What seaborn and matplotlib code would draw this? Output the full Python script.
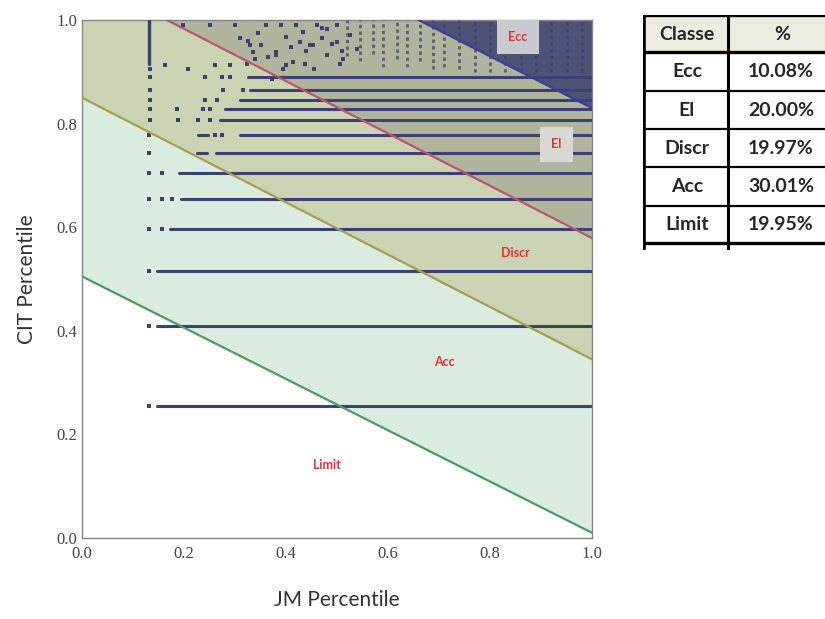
import matplotlib
matplotlib.use("Agg")
import matplotlib.pyplot as plt
import numpy as np
import pandas as pd
import seaborn as sns

# Class boundaries: CIT percentile at JM = 0 and at JM = 1
BOUNDARY_NAMES = ["Limit/Acc", "Acc/Discr", "Discr/El", "El/Ecc"]
BOUNDARY_AT_0 = [0.505, 0.85, 1.084, 1.33]
BOUNDARY_AT_1 = [0.01, 0.345, 0.579, 0.83]

# Class labels inside the plot
CLASS_NAMES = ["Limit", "Acc", "Discr", "El", "Ecc"]
CLASS_LABEL_JM = [0.48, 0.71, 0.85, 0.93, 0.855]
CLASS_LABEL_CIT = [0.14, 0.34, 0.55, 0.76, 0.967]

# Table of class shares
TABLE_SHARES = ["19.95%", "30.01%", "19.97%", "20.00%", "10.08%"]

# Dense horizontal runs of papers (one run per citation level)
RUN_CIT = [0.255, 0.41, 0.515, 0.597, 0.654, 0.705, 0.743, 0.743, 0.778, 0.778,
           0.807, 0.828, 0.846, 0.865, 0.89]
RUN_JM_START = [0.148, 0.148, 0.148, 0.172, 0.195, 0.19, 0.225, 0.263, 0.227, 0.31,
                0.27, 0.28, 0.31, 0.33, 0.325]
RUN_JM_END = [1.0, 1.0, 1.0, 1.0, 1.0, 1.0, 0.245, 1.0, 0.247, 1.0,
              1.0, 1.0, 1.0, 1.0, 1.0]

# Lowest JM percentile: solid column at the top
MIN_JM = 0.131
MIN_COL_CIT = [0.915, 1.0]

# Dotted columns of highly cited papers
COL_JM = [0.52, 0.545, 0.57, 0.59, 0.617, 0.637, 0.663, 0.688, 0.71,
          0.74, 0.77, 0.80, 0.83, 0.86, 0.89, 0.92, 0.95, 0.98]
COL_CIT_LOW = [0.93, 0.92, 0.935, 0.91, 0.925, 0.91, 0.92, 0.905, 0.91,
               0.905, 0.9, 0.9, 0.9, 0.9, 0.9, 0.9, 0.9, 0.9]

# Isolated papers
POINT_JM = [0.131, 0.131, 0.131, 0.131, 0.157, 0.131, 0.157, 0.176, 0.131, 0.157,
            0.131, 0.131, 0.26, 0.275, 0.133, 0.188, 0.227, 0.25, 0.133, 0.186,
            0.237, 0.25, 0.133, 0.241, 0.265, 0.133, 0.276, 0.316, 0.133, 0.241,
            0.275, 0.29, 0.133, 0.163, 0.208, 0.26, 0.29, 0.33, 0.34, 0.38,
            0.40, 0.41, 0.447, 0.47, 0.48, 0.49, 0.40, 0.437, 0.373, 0.324,
            0.25, 0.198, 0.30, 0.325, 0.335, 0.365, 0.38, 0.414, 0.427, 0.453,
            0.48, 0.50, 0.512, 0.525, 0.539, 0.48, 0.433, 0.35, 0.36, 0.39,
            0.42, 0.46, 0.50, 0.44, 0.47, 0.51, 0.505, 0.455, 0.395, 0.345, 0.31]
POINT_CIT = [0.255, 0.41, 0.515, 0.597, 0.597, 0.654, 0.654, 0.654, 0.705, 0.705,
             0.743, 0.778, 0.778, 0.778, 0.807, 0.807, 0.807, 0.807, 0.828, 0.828,
             0.828, 0.828, 0.846, 0.846, 0.846, 0.865, 0.865, 0.865, 0.89, 0.89,
             0.89, 0.89, 0.905, 0.913, 0.906, 0.913, 0.913, 0.952, 0.925, 0.933,
             0.967, 0.948, 0.952, 0.985, 0.933, 0.954, 0.913, 0.915, 0.887, 0.915,
             0.99, 0.99, 0.99, 0.96, 0.938, 0.929, 0.938, 0.919, 0.958, 0.952,
             0.933, 0.958, 0.925, 0.971, 0.944, 0.983, 0.977, 0.952, 0.99, 0.99,
             0.99, 0.99, 0.99, 0.94, 0.965, 0.94, 0.915, 0.905, 0.905, 0.975, 0.965]

LINE_COLORS = ["#4f9a62", "#a39f52", "#b8566e", "#3d3f99"]
REGION_COLORS = ["#d9ecdf", "#cad3b2", "#b1b49c", "#4d5276"]
DOT_COLOR = "#3b4170"

sns.set_style("white")
plt.rcParams["font.family"] = ["Lato", "DejaVu Sans"]

fig = plt.figure(figsize=(8.25, 6.19), dpi=100)
ax = fig.add_axes([82 / 825, 1 - 538 / 619, 510 / 825, 518 / 619])
ax.set_xlim(0, 1)
ax.set_ylim(0, 1)

# Shaded classes, stacked between the boundary lines
jm = np.array([0.0, 1.0])
bounds = [np.array([a, b]) for a, b in zip(BOUNDARY_AT_0, BOUNDARY_AT_1)]
for i, color in enumerate(REGION_COLORS):
    upper = bounds[i + 1] if i + 1 < len(bounds) else np.maximum(bounds[i], 1.0)
    ax.fill_between(jm, bounds[i], upper, color=color, lw=0, zorder=1)

# Papers
runs = pd.DataFrame({
    "run": np.repeat(np.arange(len(RUN_CIT)), 2),
    "JM": np.ravel(np.column_stack([RUN_JM_START, RUN_JM_END])),
    "CIT": np.repeat(RUN_CIT, 2),
})
sns.lineplot(data=runs, x="JM", y="CIT", units="run", estimator=None, sort=False,
             color=DOT_COLOR, lw=2.2, ax=ax, zorder=3)
cols = pd.DataFrame({
    "col": np.repeat(np.arange(len(COL_JM)), 2),
    "JM": np.repeat(COL_JM, 2),
    "CIT": np.ravel(np.column_stack([COL_CIT_LOW, np.ones(len(COL_JM))])),
})
sns.lineplot(data=cols, x="JM", y="CIT", units="col", estimator=None, sort=False,
             color=DOT_COLOR, lw=2.0, ls=(0, (1.2, 1.2)), alpha=0.75, ax=ax, zorder=3)
sns.lineplot(x=[MIN_JM] * len(MIN_COL_CIT), y=MIN_COL_CIT, sort=False,
             estimator=None, color=DOT_COLOR, lw=2.4, ax=ax, zorder=3)
sns.scatterplot(x=POINT_JM, y=POINT_CIT, color=DOT_COLOR, marker="s", s=5,
                linewidth=0, ax=ax, zorder=3)

# Boundary lines
lines = pd.DataFrame({
    "boundary": np.repeat(BOUNDARY_NAMES, 2),
    "JM": np.tile(jm, len(BOUNDARY_NAMES)),
    "CIT": np.ravel(np.column_stack([BOUNDARY_AT_0, BOUNDARY_AT_1])),
})
sns.lineplot(data=lines, x="JM", y="CIT", hue="boundary", palette=LINE_COLORS,
             hue_order=BOUNDARY_NAMES, lw=1.6, legend=False, ax=ax, zorder=4)

for name, x, y in zip(CLASS_NAMES, CLASS_LABEL_JM, CLASS_LABEL_CIT):
    box = None
    if name == "Ecc":
        box = dict(boxstyle="square,pad=0.9", fc="#c9cacf", ec="none")
    elif name == "El":
        box = dict(boxstyle="square,pad=0.9", fc="#d8d9d2", ec="none")
    ax.text(x, y, name, color="#e8303a", fontsize=9, fontweight="bold",
            ha="center", va="center", bbox=box, zorder=5)

ax.set_xticks(np.arange(0, 1.01, 0.2))
ax.set_yticks(np.arange(0, 1.01, 0.2))
ax.set_xticks(np.arange(0, 1.01, 0.05), minor=True)
ax.set_yticks(np.arange(0, 1.01, 0.05), minor=True)
ax.tick_params(which="both", direction="in", top=True, right=True, color="#888888")
ax.tick_params(which="major", length=6, labelsize=12, labelcolor="#444444")
ax.tick_params(axis="x", which="major", pad=6)
ax.tick_params(which="minor", length=3)
ax.set_xticklabels([f"{v:.1f}" for v in ax.get_xticks()])
ax.set_yticklabels([f"{v:.1f}" for v in ax.get_yticks()])
for lab in ax.get_xticklabels() + ax.get_yticklabels():
    lab.set_family("Liberation Serif")
for sp in ax.spines.values():
    sp.set_color("#888888")
    sp.set_linewidth(1.0)
ax.set_xlabel("JM Percentile", fontsize=15, color="#333333", labelpad=20)
ax.set_ylabel("CIT Percentile", fontsize=15, color="#333333", labelpad=14)

# Class share table, in pixel coordinates
tab = fig.add_axes([643 / 825, 1 - 250 / 619, 192 / 825, 235 / 619])
tab.set_xlim(643, 835)
tab.set_ylim(250, 15)
tab.axis("off")
tab.fill_between([644, 835], 15, 52, color="#eeebe0", lw=0)
row_edges = [15, 52, 91, 129, 167, 206, 243]
for k, yy in enumerate(row_edges):
    tab.plot([644, 835], [yy, yy], color="black", lw=2.4 if k in (0, 1, 6) else 1.6,
             solid_capstyle="butt")
tab.plot([644, 644], [14, 249], color="black", lw=2.6)
tab.plot([728, 728], [14, 249], color="black", lw=2.2)
tab.text(687, 34, "Classe", fontsize=14, fontweight="bold", ha="center", va="center")
tab.text(782, 34, "%", fontsize=14, fontweight="bold", ha="center", va="center")
for k, (name, share) in enumerate(zip(CLASS_NAMES[::-1], TABLE_SHARES[::-1])):
    yc = (row_edges[k + 1] + row_edges[k + 2]) / 2
    tab.text(687, yc, name, fontsize=14, fontweight="bold", ha="center", va="center")
    tab.text(781, yc, share, fontsize=14, fontweight="bold", ha="center", va="center")

fig.savefig("out.png", dpi=100)
